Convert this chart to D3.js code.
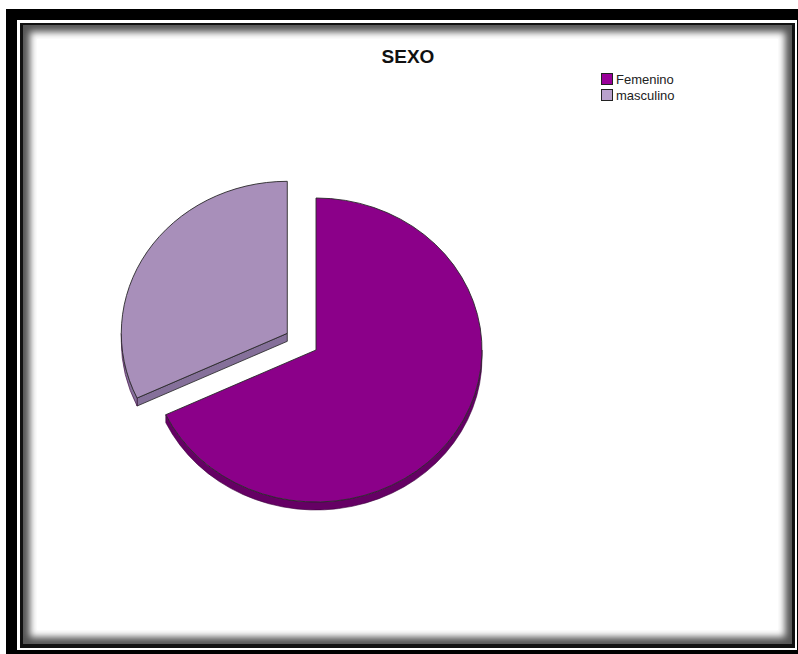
<!DOCTYPE html>
<html>
<head>
<meta charset="utf-8">
<script src="https://cdn.jsdelivr.net/npm/d3@7"></script>
<style>
  html, body { margin: 0; padding: 0; background: #fff; }
  svg { display: block; }
</style>
</head>
<body>
<svg id="chart" width="798" height="654"></svg>
<script>
// Data
const categories = ["Femenino", "masculino"];
const values = [68, 32];
const topColors = ["#8b0089", "#a88fba"];
const sideColors = ["#650064", "#85709a"];
const legendColors = ["#990099", "#b9a1cc"];
const exploded = [false, true];

const svg = d3.select("#chart");
const W = 798, H = 654;

// ---- Frame: outer black border, white gap, inner frame with soft inner shadow ----
const defs = svg.append("defs");

svg.append("rect").attr("x", 6).attr("y", 9).attr("width", W).attr("height", H)
  .attr("fill", "#000");
svg.append("rect").attr("x", 17).attr("y", 20).attr("width", 780).attr("height", 630)
  .attr("fill", "#fff");
svg.append("rect").attr("x", 20).attr("y", 23).attr("width", 775).attr("height", 625)
  .attr("fill", "#111");

// inner white panel with a blurred dark edge
const panelX = 23, panelY = 25, panelW = 769, panelH = 619;
const clip = defs.append("clipPath").attr("id", "panelClip");
clip.append("rect").attr("x", panelX).attr("y", panelY).attr("width", panelW).attr("height", panelH);
const pg = svg.append("g").attr("clip-path", "url(#panelClip)");
pg.append("rect").attr("x", panelX).attr("y", panelY).attr("width", panelW).attr("height", panelH)
  .attr("fill", "#555");
const blurF = defs.append("filter").attr("id", "soft")
  .attr("x", "-10%").attr("y", "-10%").attr("width", "120%").attr("height", "120%");
blurF.append("feGaussianBlur").attr("stdDeviation", 3.5);
pg.append("rect").attr("x", panelX + 7).attr("y", panelY + 7)
  .attr("width", panelW - 14).attr("height", panelH - 14)
  .attr("fill", "#fff").attr("filter", "url(#soft)");
pg.append("rect").attr("x", panelX + 14).attr("y", panelY + 14)
  .attr("width", panelW - 28).attr("height", panelH - 28)
  .attr("fill", "#fff");

// ---- Title ----
svg.append("text").attr("x", 408).attr("y", 63)
  .attr("text-anchor", "middle")
  .attr("font-family", "Liberation Sans, Arial, sans-serif")
  .attr("font-weight", "bold").attr("font-size", 19)
  .attr("fill", "#111").text("SEXO");

// ---- Legend ----
const legend = svg.append("g").attr("transform", "translate(601,73)");
categories.forEach((c, i) => {
  const row = legend.append("g").attr("transform", `translate(0,${i * 16})`);
  row.append("rect").attr("x", 0.5).attr("y", 0.5).attr("width", 11).attr("height", 11)
    .attr("fill", legendColors[i]).attr("stroke", "#222").attr("stroke-width", 1);
  row.append("text").attr("x", 15).attr("y", 11)
    .attr("font-family", "Liberation Sans, Arial, sans-serif")
    .attr("font-size", 13).attr("fill", "#222").text(c);
});

// ---- 3D pie ----
const cx = 316, cy = 350, rx = 166, ry = 152, depth = 8, explode = 34;

const pie = d3.pie().sort(null).value(d => d)(values);

function pt(t, ox, oy, dz) {
  return [ox + rx * Math.sin(t), oy - ry * Math.cos(t) + (dz || 0)];
}

const pieG = svg.append("g");

const slices = pie.map((p, i) => {
  const mid = (p.startAngle + p.endAngle) / 2;
  const off = exploded[i] ? explode : 0;
  const ox = cx + off * Math.sin(mid) * rx / Math.max(rx, ry);
  const oy = cy - off * Math.cos(mid) * ry / Math.max(rx, ry);
  return { p, i, ox, oy };
});

// side faces first
slices.forEach(({ p, i, ox, oy }) => {
  const a0 = p.startAngle, a1 = p.endAngle;
  // radial walls that face the viewer
  [[a0, a0 > Math.PI], [a1, a1 < Math.PI]].forEach(([a, visible]) => {
    if (!visible) return;
    const e = pt(a, ox, oy);
    const path = d3.path();
    path.moveTo(ox, oy);
    path.lineTo(e[0], e[1]);
    path.lineTo(e[0], e[1] + depth);
    path.lineTo(ox, oy + depth);
    path.closePath();
    pieG.append("path").attr("d", path.toString())
      .attr("fill", sideColors[i]).attr("stroke", "#222").attr("stroke-width", 0.8);
  });
  // curved outer wall on the lower half of the ellipse
  const s = Math.max(a0, Math.PI / 2), e = Math.min(a1, 3 * Math.PI / 2);
  if (e > s) {
    const p0 = pt(s, ox, oy), p1 = pt(e, ox, oy);
    const large = (e - s) > Math.PI ? 1 : 0;
    const d = `M${p0[0]},${p0[1]} A${rx},${ry} 0 ${large} 1 ${p1[0]},${p1[1]}` +
      ` L${p1[0]},${p1[1] + depth} A${rx},${ry} 0 ${large} 0 ${p0[0]},${p0[1] + depth} Z`;
    pieG.append("path").attr("d", d)
      .attr("fill", sideColors[i]).attr("stroke", "#3a003a").attr("stroke-width", 0.6);
  }
});

// top faces
slices.forEach(({ p, i, ox, oy }) => {
  const p0 = pt(p.startAngle, ox, oy), p1 = pt(p.endAngle, ox, oy);
  const large = (p.endAngle - p.startAngle) > Math.PI ? 1 : 0;
  const d = `M${ox},${oy} L${p0[0]},${p0[1]} A${rx},${ry} 0 ${large} 1 ${p1[0]},${p1[1]} Z`;
  pieG.append("path").attr("d", d)
    .attr("fill", topColors[i]).attr("stroke", "#2a2a2a").attr("stroke-width", 0.9)
    .attr("stroke-linejoin", "round");
});
</script>
</body>
</html>
